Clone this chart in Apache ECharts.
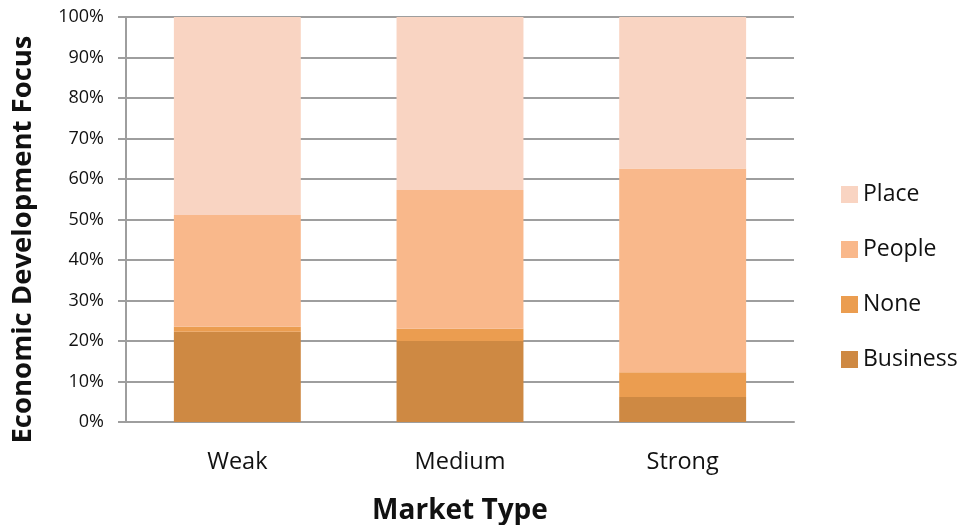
<!DOCTYPE html>
<html><head><meta charset="utf-8">
<script src="https://cdn.jsdelivr.net/npm/echarts@6/dist/echarts.min.js"></script>
<style>html,body{margin:0;padding:0;background:#fff}#c{width:966px;height:525px}</style>
</head><body><div id="c"></div>
<script>
const categories = ['Weak', 'Medium', 'Strong'];
const business = [22.3, 20.0, 6.2];
const none = [1.2, 3.0, 6.1];
const people = [27.6, 34.3, 50.3];
const place = [48.9, 42.7, 37.4];
const yTicks = [0, 10, 20, 30, 40, 50, 60, 70, 80, 90, 100];

const FONT = '"Open Sans", Lato, sans-serif';
const colors = { Business: '#CE8943', None: '#EB9D50', People: '#F9B88B', Place: '#F9D4C2' };

function mk(name, data) {
  return { name, type: 'bar', stack: 'total', data, barWidth: '57%',
    itemStyle: { color: colors[name] }, emphasis: { disabled: true } };
}

const chart = echarts.init(document.getElementById('c'), null, { renderer: 'canvas' });
chart.setOption({
  animation: false,
  textStyle: { fontFamily: FONT },
  grid: { left: 126, right: 172, top: 17, bottom: 103, containLabel: false, outerBoundsMode: 'none' },
  legend: {
    orient: 'vertical', left: 841, top: 183, padding: 0, itemWidth: 17, itemHeight: 17, itemGap: 32,
    itemTextGap: 10, icon: 'rect', data: ['Place', 'People', 'None', 'Business'],
    textStyle: { fontFamily: FONT, fontSize: 23, color: '#111' },
    selectedMode: false
  },
  xAxis: {
    type: 'category', data: categories,
    axisLine: { lineStyle: { color: '#9E9E9E', width: 2 } },
    axisTick: { show: false },
    axisLabel: { fontFamily: FONT, fontSize: 23.5, color: '#111', margin: 28 },
    name: 'Market Type', nameLocation: 'middle', nameGap: 75,
    nameTextStyle: { fontFamily: FONT, fontSize: 28, fontWeight: 'bold', color: '#111' }
  },
  yAxis: {
    type: 'value', min: 0, max: 100, interval: 10,
    axisLine: { show: true, lineStyle: { color: '#9E9E9E', width: 2 } },
    axisTick: { show: true, length: 8, lineStyle: { color: '#9E9E9E', width: 2 } },
    splitLine: { lineStyle: { color: '#9E9E9E', width: 2 } },
    axisLabel: { fontFamily: FONT, fontSize: 18, color: '#111', margin: 22,
      formatter: v => yTicks.includes(v) ? v + '%' : '' },
    name: 'Economic Development Focus', nameLocation: 'middle', nameGap: 89,
    nameTextStyle: { fontFamily: FONT, fontSize: 27.5, fontWeight: 'bold', color: '#111', padding: [0, 40, 0, 0] }
  },
  series: [mk('Business', business), mk('None', none), mk('People', people), mk('Place', place)]
});
</script></body></html>
